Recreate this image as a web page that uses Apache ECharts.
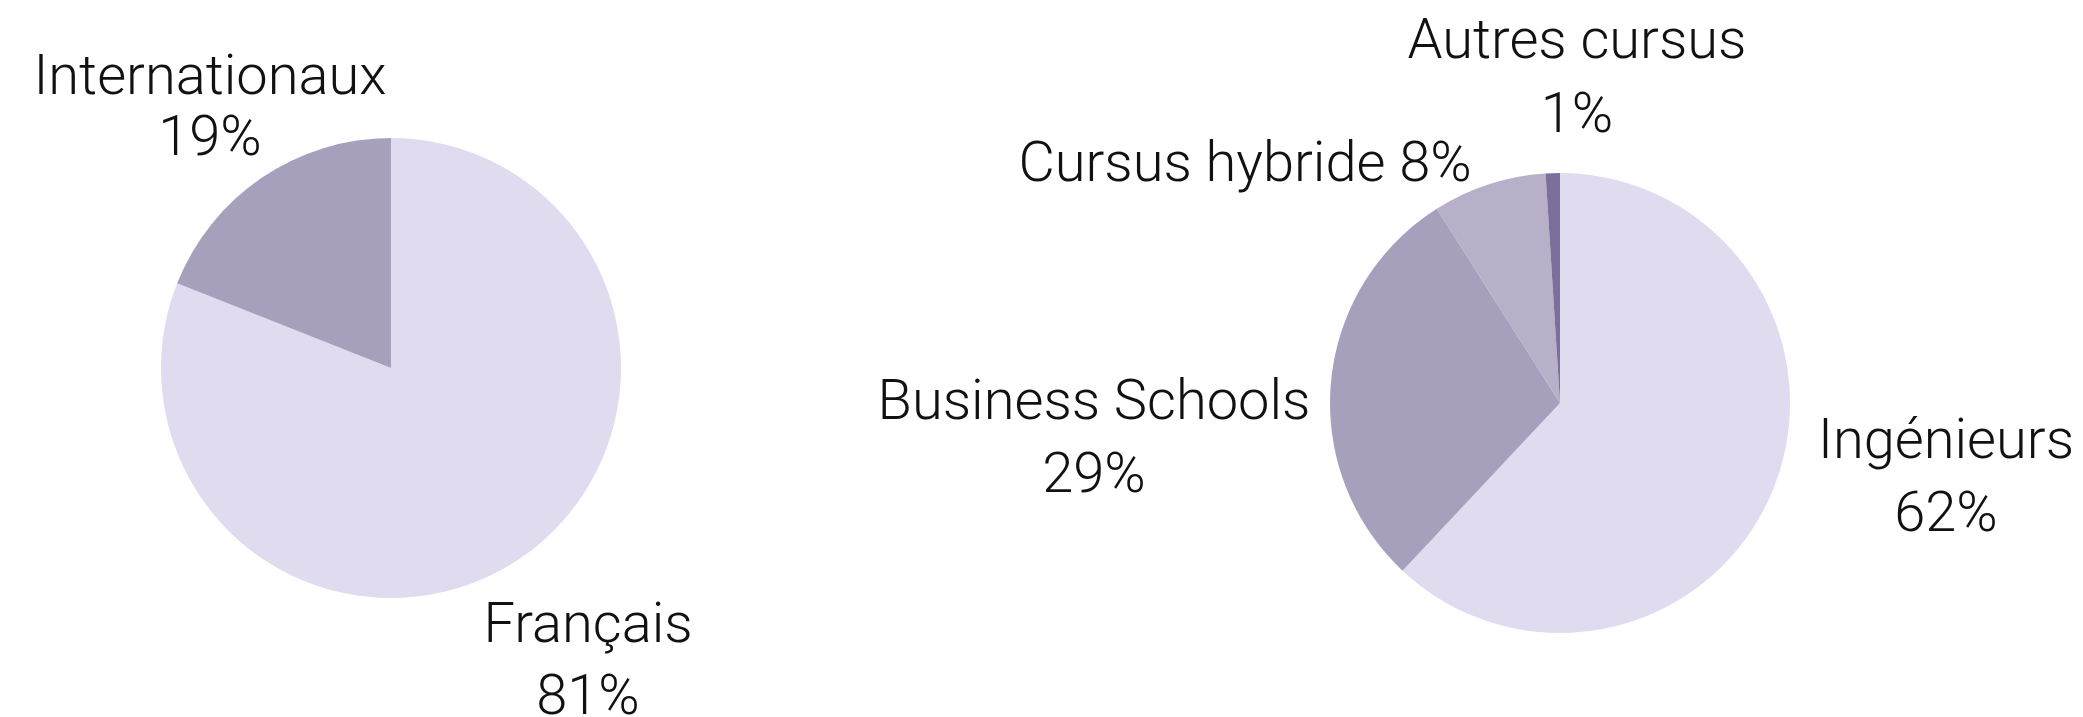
<!DOCTYPE html>
<html>
<head>
<meta charset="utf-8">
<title>Répartition</title>
<script src="https://cdn.jsdelivr.net/npm/echarts@6/dist/echarts.min.js"></script>
<style>
  html, body { margin: 0; padding: 0; background: #fff; }
  #chart { width: 2083px; height: 717px; }
</style>
</head>
<body>
<div id="chart"></div>
<script>
// origine
const origineNames = ["Français", "Internationaux"];
const origineValues = [81, 19];
// cursus
const cursusNames = ["Ingénieurs", "Business Schools", "Cursus hybride", "Autres cursus"];
const cursusValues = [62, 29, 8, 1];

const colors = ["#e1dbf0", "#a6a0bc", "#b8b0c9", "#7d6f9c"];

// label anchors (block centre) and line heights
const origineLabelPos = [[588, 664, 72], [210, 110, 61]];
const cursusLabelPos = [[1946, 480, 73], [1094, 441, 73], [1245, 167, 60], [1577, 81, 74]];

function toData(names, values, pos) {
  return names.map((n, i) => ({
    name: n,
    value: values[i],
    itemStyle: { color: colors[i] },
    label: { lineHeight: pos[i][2] }
  }));
}

function placeLabels(pos) {
  return function (params) {
    const p = pos[params.dataIndex];
    return { x: p[0], y: p[1], align: "center", verticalAlign: "middle", hideOverlap: false };
  };
}

const labelBase = {
  show: true,
  position: "outside",
  color: "#111",
  fontFamily: "Roboto",
  fontWeight: 300,
  fontSize: 56,
  align: "center",
  overflow: "none",
  alignTo: "none"
};

const chart = echarts.init(document.getElementById("chart"), null, { renderer: "canvas" });

chart.setOption({
  animation: false,
  backgroundColor: "#fff",
  series: [
    {
      type: "pie",
      center: [391, 368],
      radius: 230,
      startAngle: 90,
      clockwise: true,
      silent: true,
      data: toData(origineNames, origineValues, origineLabelPos),
      label: Object.assign({}, labelBase, {
        formatter: (p) => p.name + "\n" + p.value + "%"
      }),
      labelLine: { show: false },
      labelLayout: placeLabels(origineLabelPos)
    },
    {
      type: "pie",
      center: [1560, 403],
      radius: 230,
      startAngle: 90,
      clockwise: true,
      silent: true,
      data: toData(cursusNames, cursusValues, cursusLabelPos),
      label: Object.assign({}, labelBase, {
        // hybride label sits on one line
        formatter: (p) => p.dataIndex === 2 ? p.name + " " + p.value + "%" : p.name + "\n" + p.value + "%"
      }),
      labelLine: { show: false },
      labelLayout: placeLabels(cursusLabelPos)
    }
  ]
});
</script>
</body>
</html>
